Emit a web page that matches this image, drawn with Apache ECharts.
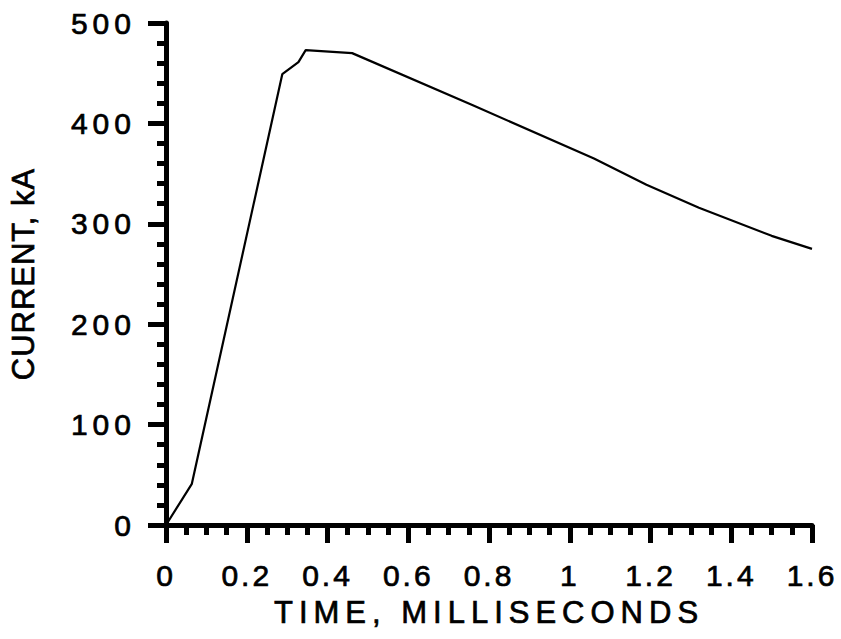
<!DOCTYPE html>
<html>
<head>
<meta charset="utf-8">
<script src="https://cdn.jsdelivr.net/npm/echarts@6/dist/echarts.min.js"></script>
<style>
  html, body { margin: 0; padding: 0; background: #fff; }
  #chart { width: 841px; height: 639px; }
  /* heavier, widely tracked lettering, per text group (matched on its font list) */
  #chart svg text { stroke: #000; stroke-width: 0.7px; }
  #chart svg text[style*="Arial"]     { letter-spacing: 5px; }   /* current tick labels */
  #chart svg text[style*="Helvetica"] { letter-spacing: 3px; }   /* time tick labels */
  #chart svg text[style*="Arimo"]     { letter-spacing: 6px; }   /* time axis title */
  #chart svg text[style*="FreeSans"]  { letter-spacing: 1px; }   /* current axis title */
</style>
</head>
<body>
<div id="chart"></div>
<script>
// Discharge current waveform: time in milliseconds, current in kA
const timeMs = [0, 0.064, 0.288, 0.328, 0.346, 0.461, 0.76, 1.06, 1.19, 1.32, 1.5, 1.6];
const currentKA = [0, 41, 449, 461, 473, 470, 418, 365, 339, 316, 288, 275];

const xTickValues = [0, 0.2, 0.4, 0.6, 0.8, 1, 1.2, 1.4, 1.6];
const yTickValues = [0, 100, 200, 300, 400, 500];

const xTitle = 'TIME, MILLISECONDS';
const yTitle = 'CURRENT, kA';

const ink = '#000';

const chart = echarts.init(document.getElementById('chart'), null, { renderer: 'svg' });

chart.setOption({
  animation: false,
  backgroundColor: '#fff',
  grid: { left: 166, right: 29, top: 23, bottom: 114, containLabel: false },
  xAxis: {
    type: 'value',
    min: xTickValues[0],
    max: xTickValues[xTickValues.length - 1],
    interval: 0.2,
    name: xTitle,
    nameLocation: 'middle',
    nameGap: 72,
    nameTextStyle: { fontSize: 31, fontFamily: 'Liberation Sans, Arimo', color: ink },
    axisLine: { show: true, onZero: false, lineStyle: { color: ink, width: 5 } },
    axisTick: { show: true, inside: false, length: 18, lineStyle: { color: ink, width: 5 } },
    minorTick: { show: true, splitNumber: 4, length: 10, lineStyle: { color: ink, width: 5 } },
    splitLine: { show: false },
    axisLabel: {
      fontSize: 30, margin: 35, color: ink,
      fontFamily: 'Liberation Sans, Helvetica',
      formatter: v => String(+v.toFixed(1))
    }
  },
  yAxis: {
    type: 'value',
    min: yTickValues[0],
    max: yTickValues[yTickValues.length - 1],
    interval: 100,
    name: yTitle,
    nameLocation: 'middle',
    nameRotate: 90,
    nameGap: 127,
    nameTextStyle: { fontSize: 31, fontFamily: 'Liberation Sans, FreeSans', color: ink },
    axisLine: { show: true, onZero: false, lineStyle: { color: ink, width: 5 } },
    axisTick: { show: true, inside: false, length: 18, lineStyle: { color: ink, width: 5 } },
    minorTick: { show: true, splitNumber: 5, length: 9, lineStyle: { color: ink, width: 5 } },
    splitLine: { show: false },
    axisLabel: { fontSize: 30, margin: 30, color: ink, fontFamily: 'Liberation Sans, Arial' }
  },
  series: [{
    type: 'line',
    data: timeMs.map((t, i) => [t, currentKA[i]]),
    showSymbol: false,
    smooth: false,
    lineStyle: { color: ink, width: 2.2 }
  }]
});
</script>
</body>
</html>
